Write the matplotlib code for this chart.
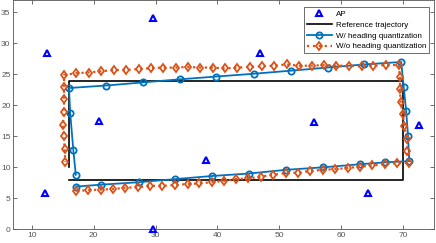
import matplotlib.pyplot as plt

plt.rcParams['font.family'] = ['Liberation Sans', 'DejaVu Sans']

# access points
ap_x = [12.5, 29.5, 20.8, 12.1, 29.5, 38.2, 46.8, 55.6, 72.6, 64.3]
ap_y = [28.4, 34.1, 17.4, 5.9, 0.0, 11.2, 28.4, 17.3, 16.9, 5.9]

# reference trajectory
ref_x = [16, 70, 70, 16, 16]
ref_y = [8, 8, 24, 24, 10]

# with heading quantization
wq_x = [17.2, 21.2, 27.3, 33.2, 39.1, 45.1, 51.1, 57.05, 63.1, 67.0, 71.0,
        70.8, 70.5, 70.1, 69.7,
        63.7, 57.8, 51.9, 45.9, 39.8, 33.9, 27.9, 22.0, 16.0,
        16.2, 16.7, 17.1]
wq_y = [6.9, 7.2, 7.6, 8.1, 8.6, 9.0, 9.6, 10.0, 10.5, 10.8, 11.0,
        15.1, 19.1, 23.0, 27.0,
        26.6, 26.1, 25.6, 25.1, 24.65, 24.2, 23.7, 23.2, 22.8,
        18.7, 12.8, 8.8]

# without heading quantization
nq_x = [17.2, 19.0, 21.1, 23.1, 25.1, 27.1, 29.1, 31.1, 33.2, 35.2, 37.05, 39.1,
        41.0, 43.0, 45.0, 47.0, 49.0, 51.0, 53.0, 55.0, 57.05, 59.0, 61.1, 63.1,
        65.05, 67.1, 69.0, 70.9,
        70.7, 70.6, 70.2, 69.95, 69.6, 69.5, 69.5, 69.3,
        67.3, 65.2, 63.3, 61.2, 59.2, 57.3, 55.2, 53.2, 51.2, 49.2, 47.2, 45.2,
        43.2, 41.2, 39.2, 37.2, 35.3, 33.3, 31.2, 29.3, 27.3, 25.2, 23.2, 21.2,
        19.2, 17.2, 15.2,
        15.2, 15.2, 15.2, 15.0, 15.2, 15.3, 15.4]
nq_y = [6.2, 6.3, 6.4, 6.5, 6.7, 6.8, 7.0, 7.0, 7.15, 7.3, 7.4, 7.6,
        7.8, 8.1, 8.2, 8.5, 8.8, 9.05, 9.15, 9.4, 9.6, 9.7, 9.9, 10.1,
        10.3, 10.5, 10.7, 10.7,
        12.65, 14.6, 16.6, 18.6, 20.6, 22.6, 24.5, 26.5,
        26.5, 26.4, 26.3, 26.4, 26.4, 26.5, 26.4, 26.4, 26.6, 26.4, 26.3, 26.2,
        26.1, 25.95, 26.1, 26.1, 26.2, 26.1, 26.1, 26.0, 25.85, 25.7, 25.7, 25.5,
        25.3, 25.2, 24.9,
        22.9, 21.0, 18.9, 16.9, 15.0, 12.9, 10.9]

blue = '#0072BD'
orange = '#D95319'

fig = plt.figure(figsize=(4.36, 2.43), dpi=100)
ax = fig.add_axes([13.3/436, (243-229.3)/243, (434-13.3)/436, 229.3/243])

ax.plot(ap_x, ap_y, '^', color='b', mfc='none', ms=4.5, mew=1.5,
        clip_on=False, label='AP', zorder=5)
ax.plot(ref_x, ref_y, '-', color='k', lw=1.2, label='Reference trajectory')
ax.plot(wq_x, wq_y, '-o', color=blue, lw=1.3, mfc='none', ms=4.5, mew=1.3,
        label='W/ heading quantization')
ax.plot(nq_x, nq_y, ':d', color=orange, lw=1.6, mfc='none', ms=4.5, mew=1.3,
        label='W/o heading quantization')

ax.set_xlim(7, 75)
ax.set_ylim(0, 37)
ax.set_xticks([10, 20, 30, 40, 50, 60, 70])
ax.set_yticks([0, 5, 10, 15, 20, 25, 30, 35])

ax.tick_params(direction='in', length=3, width=0.6, colors='#555555',
               labelsize=6, top=True, right=True, pad=2)
for sp in ax.spines.values():
    sp.set_color('#555555')
    sp.set_linewidth(0.6)

leg = ax.legend(loc='upper right', bbox_to_anchor=(0.9874, 0.968),
                borderaxespad=0, fontsize=5.8, handlelength=3.2,
                handletextpad=0.4, labelspacing=0.4, borderpad=0.35,
                fancybox=False, framealpha=1)
leg.get_frame().set_edgecolor('#555555')
leg.get_frame().set_linewidth(0.6)

fig.savefig('out.png', dpi=100)
